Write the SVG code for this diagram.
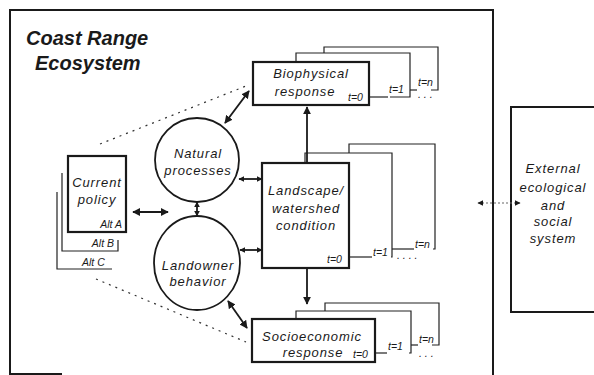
<svg xmlns="http://www.w3.org/2000/svg" width="594" height="375" viewBox="0 0 594 375">
<style>
.t{font-family:"Liberation Sans",Arial,sans-serif;font-style:italic;font-size:13px;letter-spacing:0.9px;fill:#1a1a1a}
.s{font-family:"Liberation Sans",Arial,sans-serif;font-style:italic;font-size:10.5px;fill:#1a1a1a}
.title{font-family:"Liberation Sans",Arial,sans-serif;font-style:italic;font-weight:bold;font-size:20px;fill:#1a1a1a}
.box{fill:#fff;stroke:#1a1a1a;stroke-width:2.2}
.back{fill:none;stroke:#222;stroke-width:1.2}
.frame{fill:none;stroke:#1a1a1a;stroke-width:2}
.circ{fill:#fff;stroke:#1a1a1a;stroke-width:1.8}
.arr{stroke:#1a1a1a;stroke-width:1.8;fill:none}
.dot{stroke:#333;stroke-width:1.2;fill:none;stroke-dasharray:2 5}
</style>
<defs>
<marker id="ah" viewBox="0 0 10 10" refX="9" refY="5" markerWidth="8" markerHeight="8" markerUnits="userSpaceOnUse" orient="auto-start-reverse">
<path d="M0,0 L10,5 L0,10 Z" fill="#1a1a1a"/>
</marker>
<marker id="ahs" viewBox="0 0 10 10" refX="9" refY="5" markerWidth="6" markerHeight="6" markerUnits="userSpaceOnUse" orient="auto-start-reverse">
<path d="M0,0 L10,5 L0,10 Z" fill="#1a1a1a"/>
</marker>
</defs>

<g id="frame">
<path class="frame" d="M10,375 V10 H493 V375"/>
<path class="frame" d="M10,374 H62"/>
<text class="title" x="26" y="45">Coast Range</text>
<text class="title" x="35" y="70">Ecosystem</text>
</g>

<g id="external">
<path class="frame" d="M594,107 H511 V312 H594"/>
<text class="t" text-anchor="middle" x="553" y="173">External</text>
<text class="t" text-anchor="middle" x="553" y="192">ecological</text>
<text class="t" text-anchor="middle" x="553" y="210">and</text>
<text class="t" text-anchor="middle" x="553" y="226">social</text>
<text class="t" text-anchor="middle" x="553" y="243">system</text>
</g>

<g id="policy">
<path class="back" d="M57,192 V269 H112"/>
<path class="back" d="M62,173 V251 H118 V240"/>
<rect class="box" x="68" y="156" width="58" height="76"/>
<text class="t" text-anchor="middle" x="97" y="187">Current</text>
<text class="t" text-anchor="middle" x="97" y="204">policy</text>
<text class="s" text-anchor="end" x="122" y="228">Alt A</text>
<text class="s" text-anchor="end" x="114" y="247">Alt B</text>
<text class="s" x="82" y="266">Alt C</text>
</g>

<g id="natural">
<circle class="circ" cx="197" cy="160" r="42"/>
<text class="t" text-anchor="middle" x="198" y="158">Natural</text>
<text class="t" text-anchor="middle" x="198" y="175">processes</text>
</g>

<g id="landowner">
<ellipse class="circ" cx="197" cy="263" rx="43" ry="47"/>
<text class="t" text-anchor="middle" x="198" y="270">Landowner</text>
<text class="t" text-anchor="middle" x="198" y="286">behavior</text>
</g>

<g id="biophysical">
<path class="back" d="M324,53 V47 H438 V90 H431"/>
<path class="back" d="M296,62 V53 H410 V97 H390"/>
<path class="back" d="M410,90 H417"/>
<path class="back" d="M369,97 H388"/>
<rect class="box" x="253" y="62" width="116" height="43"/>
<text class="t" text-anchor="middle" x="311" y="78">Biophysical</text>
<text class="t" text-anchor="middle" x="305" y="96">response</text>
<text class="s" x="348" y="101">t=0</text>
<text class="s" x="389" y="93">t=1</text>
<text class="s" x="418" y="86">t=n</text>
<text class="s" x="418" y="98">. . .</text>
</g>

<g id="landscape">
<path class="back" d="M349,153 V144 H435 V249 H433"/>
<path class="back" d="M305,163 V153 H392 V257 H391"/>
<path class="back" d="M349,257 H372"/>
<path class="back" d="M392,249 H414"/>
<rect class="box" x="262" y="163" width="87" height="105"/>
<text class="t" text-anchor="middle" x="306" y="195">Landscape/</text>
<text class="t" text-anchor="middle" x="306" y="213">watershed</text>
<text class="t" text-anchor="middle" x="306" y="230">condition</text>
<text class="s" x="327" y="263">t=0</text>
<text class="s" x="373" y="256">t=1</text>
<text class="s" x="415" y="248">t=n</text>
<text class="s" x="397" y="259">. . . .</text>
</g>

<g id="socioeconomic">
<path class="back" d="M325,311 V303 H439 V345 H432"/>
<path class="back" d="M296,319 V311 H411 V353 H409"/>
<path class="back" d="M375,353 H387"/>
<path class="back" d="M411,345 H418"/>
<rect class="box" x="252" y="319" width="123" height="43"/>
<text class="t" text-anchor="middle" x="312" y="341">Socioeconomic</text>
<text class="t" text-anchor="middle" x="313" y="357">response</text>
<text class="s" x="353" y="358">t=0</text>
<text class="s" x="388" y="350">t=1</text>
<text class="s" x="419" y="343">t=n</text>
<text class="s" x="419" y="357">. . .</text>
</g>

<g id="connectors">
<line class="dot" x1="100" y1="144" x2="246" y2="86"/>
<line class="dot" x1="96" y1="279" x2="246" y2="342"/>
<line class="arr" x1="225" y1="123" x2="249" y2="91" marker-start="url(#ah)" marker-end="url(#ah)"/>
<line class="arr" x1="228" y1="301" x2="247" y2="328" marker-start="url(#ah)" marker-end="url(#ah)"/>
<line class="arr" x1="133" y1="212" x2="168" y2="212" marker-start="url(#ah)" marker-end="url(#ah)"/>
<line class="arr" x1="197" y1="202" x2="197" y2="216" marker-start="url(#ahs)" marker-end="url(#ahs)"/>
<line class="arr" x1="239" y1="179" x2="262" y2="179" marker-start="url(#ahs)" marker-end="url(#ahs)"/>
<line class="arr" x1="240" y1="250" x2="262" y2="250" marker-start="url(#ahs)" marker-end="url(#ahs)"/>
<line class="arr" x1="307" y1="163" x2="307" y2="107" marker-end="url(#ah)"/>
<line class="arr" x1="307" y1="268" x2="307" y2="304" marker-end="url(#ah)"/>
<line stroke="#666" stroke-width="1.2" stroke-dasharray="2 2" x1="478" y1="203" x2="520" y2="203" marker-start="url(#ahs)" marker-end="url(#ahs)"/>
</g>
</svg>
